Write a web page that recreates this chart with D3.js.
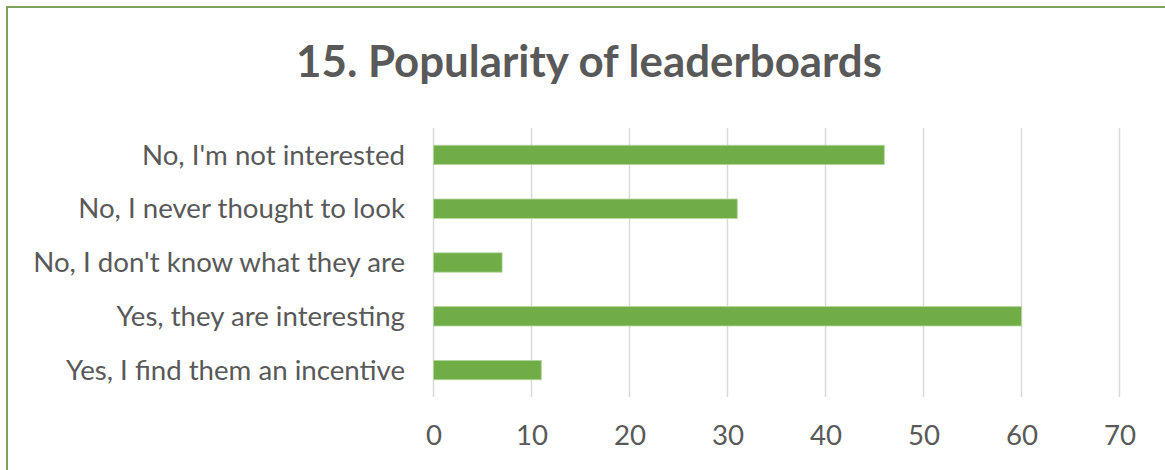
<!DOCTYPE html>
<html><head><meta charset="utf-8">
<script src="https://cdn.jsdelivr.net/npm/d3@7"></script>
<style>
html,body{margin:0;padding:0;background:#fff;}
svg{display:block;}
text{font-family:Lato,"Open Sans",sans-serif;fill:#595959;}
</style></head>
<body>
<svg id="chart" width="1165" height="470"></svg>
<script>
const title = "15. Popularity of leaderboards";
const categories = ["No, I'm not interested","No, I never thought to look","No, I don't know what they are","Yes, they are interesting","Yes, I find them an incentive"];
const values = [46, 31, 7, 60, 11];
const tickValues = [0, 10, 20, 30, 40, 50, 60, 70];

const svg = d3.select("#chart");
const W = 1165, H = 470;

// chart border (left and top visible)
svg.append("path")
  .attr("d", `M7,${H+5} L7,7 L${W+5},7`)
  .attr("fill","none").attr("stroke","#7aa35a").attr("stroke-width",2);

const x = d3.scaleLinear().domain([0,70]).range([433.5,1119.5]);
const y = d3.scaleBand().domain(categories).range([128,397]).paddingInner(0.64).paddingOuter(0.32);

// gridlines
svg.append("g").selectAll("line").data(tickValues).join("line")
  .attr("x1",d=>x(d)).attr("x2",d=>x(d))
  .attr("y1",128).attr("y2",397)
  .attr("stroke","#d9d9d9").attr("stroke-width",1.5);

// bars
svg.append("g").selectAll("rect").data(values).join("rect")
  .attr("x",x(0)).attr("y",(d,i)=>y(categories[i]))
  .attr("width",d=>x(d)-x(0)).attr("height",y.bandwidth())
  .attr("fill","#70ad47").attr("stroke","#b5d69f").attr("stroke-width",0.8);

// x axis labels
const xAxis = d3.axisBottom(x).tickValues(tickValues).tickSize(0).tickPadding(0);
const gx = svg.append("g").attr("transform","translate(0,445)").call(xAxis);
gx.select(".domain").remove();
gx.selectAll("text").attr("dy",0).attr("y",0).style("font-size","24px").style("fill","#595959").style("font-family","Lato");

// y axis labels
const yAxis = d3.axisLeft(y).tickSize(0).tickPadding(0);
const gy = svg.append("g").attr("transform","translate(405,0)").call(yAxis);
gy.select(".domain").remove();
const ylabels = gy.selectAll("text").style("font-size","24px").style("fill","#595959").style("font-family","Lato").attr("dy","0.35em");
// fit longest label width to reference (~372px)
let maxW = 0; ylabels.each(function(){maxW=Math.max(maxW,this.getComputedTextLength());});
const ls = 24*372/maxW;
ylabels.style("font-size",ls+"px");
gx.selectAll("text").style("font-size",ls+"px");

// title
const t = svg.append("text").attr("x",589).attr("y",77).attr("text-anchor","middle")
  .style("font-size","40px").style("font-weight","bold").style("fill","#595959").text(title);
const tw = t.node().getComputedTextLength();
t.style("font-size",(40*586/tw)+"px");
</script>
</body></html>
